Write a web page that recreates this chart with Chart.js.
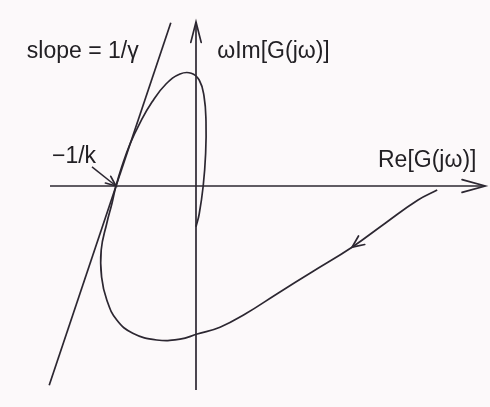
<!DOCTYPE html>
<html>
<head>
<meta charset="utf-8">
<title>Popov plot</title>
<script src="https://cdn.jsdelivr.net/npm/chart.js@4.4.1/dist/chart.umd.min.js"></script>
<style>
    html, body { margin: 0; padding: 0; background: #fcf9fa; }
    #wrap { width: 490px; height: 407px; position: relative; }
</style>
</head>
<body>
<div id="wrap"><canvas id="popovChart"></canvas></div>
<script>

// ======================================================
// Plot Data (Re / Im plane, origin at the axes crossing)
// ======================================================

// omega*Im[G] against Re[G], starting from omega = 0 on the right

const popovRe = [
    6.03, 5.55, 4.73, 3.90, 2.90, 2.05, 1.23, 0.60, 0.03, -0.40, -0.98,
    -1.58, -1.98, -2.23, -2.36, -2.37, -2.23, -2.10,
    -2.00, -1.85, -1.65, -1.40, -1.10, -0.75, -0.40, -0.12, 0.08, 0.20,
    0.25, 0.24, 0.18, 0.08, 0.00
];

const popovIm = [
    -0.10, -0.35, -0.93, -1.53, -2.15, -2.68, -3.20, -3.53, -3.70, -3.83, -3.85,
    -3.68, -3.35, -2.85, -2.28, -1.60, -0.93, -0.43,
    0.00, 0.50, 1.05, 1.58, 2.10, 2.55, 2.80, 2.82, 2.65, 2.25,
    1.60, 0.80, 0.00, -0.70, -1.02
];

// index of the point carrying the direction arrow
const popovArrowIndex = 3;

// Popov line through -1/k with slope 1/gamma
const lineRe = [-0.63, -3.67];
const lineIm = [4.08, -4.98];

// axes
const realAxisRe = [-3.65, 7.23];
const realAxisIm = [0, 0];
const imagAxisRe = [0, 0];
const imagAxisIm = [-5.10, 4.10];

// pointer to the -1/k crossing
const kPointerRe = [-2.60, -2.00];
const kPointerIm = [0.48, 0.00];

// text labels
const labelText = ["slope = 1/\u03B3", "\u03C9Im[G(j\u03C9)]", "Re[G(j\u03C9)]", "\u22121/k"];
const labelRe = [-4.23, 0.53, 4.55, -3.60];
const labelIm = [3.20, 3.20, 0.48, 0.58];


// ======================================================
// Helpers
// ======================================================

function toPoints(xs, ys) {

    return xs.map((x, i) => ({ x: x, y: ys[i] }));

}

const ink = "#2c2731";

function lineSet(xs, ys, extra) {

    return Object.assign({

        data: toPoints(xs, ys),

        borderColor: ink,

        borderWidth: 1.7,

        pointRadius: 0,

        tension: 0,

        fill: false

    }, extra || {});

}

function drawChevron(ctx, tip, from, len, spread) {

    const ang = Math.atan2(tip.y - from.y, tip.x - from.x);

    ctx.beginPath();
    ctx.moveTo(tip.x - len * Math.cos(ang - spread), tip.y - len * Math.sin(ang - spread));
    ctx.lineTo(tip.x, tip.y);
    ctx.lineTo(tip.x - len * Math.cos(ang + spread), tip.y - len * Math.sin(ang + spread));
    ctx.stroke();

}


// ======================================================
// Plugin: arrowheads and labels
// ======================================================

const annotatePlugin = {

    id: "annotate",

    beforeDraw(chart) {

        const ctx = chart.ctx;

        ctx.save();
        ctx.fillStyle = "#fcf9fa";
        ctx.fillRect(0, 0, chart.width, chart.height);
        ctx.restore();

    },

    afterDatasetsDraw(chart) {

        const ctx = chart.ctx;

        const xs = chart.scales.x;

        const ys = chart.scales.y;

        const px = (p) => ({ x: xs.getPixelForValue(p.x), y: ys.getPixelForValue(p.y) });

        ctx.save();

        ctx.strokeStyle = ink;

        ctx.lineWidth = 1.7;

        ctx.lineCap = "round";

        chart.data.datasets.forEach((ds) => {

            const pts = ds.data;

            if (ds.arrowEnd) {

                drawChevron(ctx, px(pts[pts.length - 1]), px(pts[pts.length - 2]), ds.arrowEnd[0], ds.arrowEnd[1]);

            }

            if (ds.arrowAt !== undefined) {

                const i = ds.arrowAt;

                drawChevron(ctx, px(pts[i]), px(pts[i - 1]), 13, 0.42);

            }

        });

        // labels

        ctx.fillStyle = "#222024";

        ctx.font = "23px 'Liberation Sans', Arial, sans-serif";

        ctx.textAlign = "left";

        ctx.textBaseline = "alphabetic";

        labelText.forEach((t, i) => {

            const p = px({ x: labelRe[i], y: labelIm[i] });

            ctx.fillText(t, p.x, p.y);

        });

        ctx.restore();

    }

};


// ======================================================
// Create Chart
// ======================================================

const ctx = document.getElementById("popovChart").getContext("2d");

new Chart(ctx, {

    type: "scatter",

    data: {

        datasets: [

            lineSet(realAxisRe, realAxisIm, { arrowEnd: [24, 0.27] }),

            lineSet(imagAxisRe, imagAxisIm, { arrowEnd: [21, 0.25] }),

            lineSet(lineRe, lineIm),

            lineSet(kPointerRe, kPointerIm, { borderWidth: 1.5, arrowEnd: [11, 0.4] }),

            lineSet(popovRe, popovIm, { tension: 0.45, arrowAt: popovArrowIndex })

        ]

    },

    options: {

        responsive: true,

        maintainAspectRatio: false,

        animation: false,

        showLine: true,

        layout: { padding: 0 },

        plugins: {

            legend: { display: false },

            tooltip: { enabled: false }

        },

        scales: {

            x: {

                type: "linear",

                display: false,

                min: -4.9,

                max: 7.35

            },

            y: {

                type: "linear",

                display: false,

                min: -5.525,

                max: 4.65

            }

        }

    },

    plugins: [annotatePlugin]

});

</script>
</body>
</html>
